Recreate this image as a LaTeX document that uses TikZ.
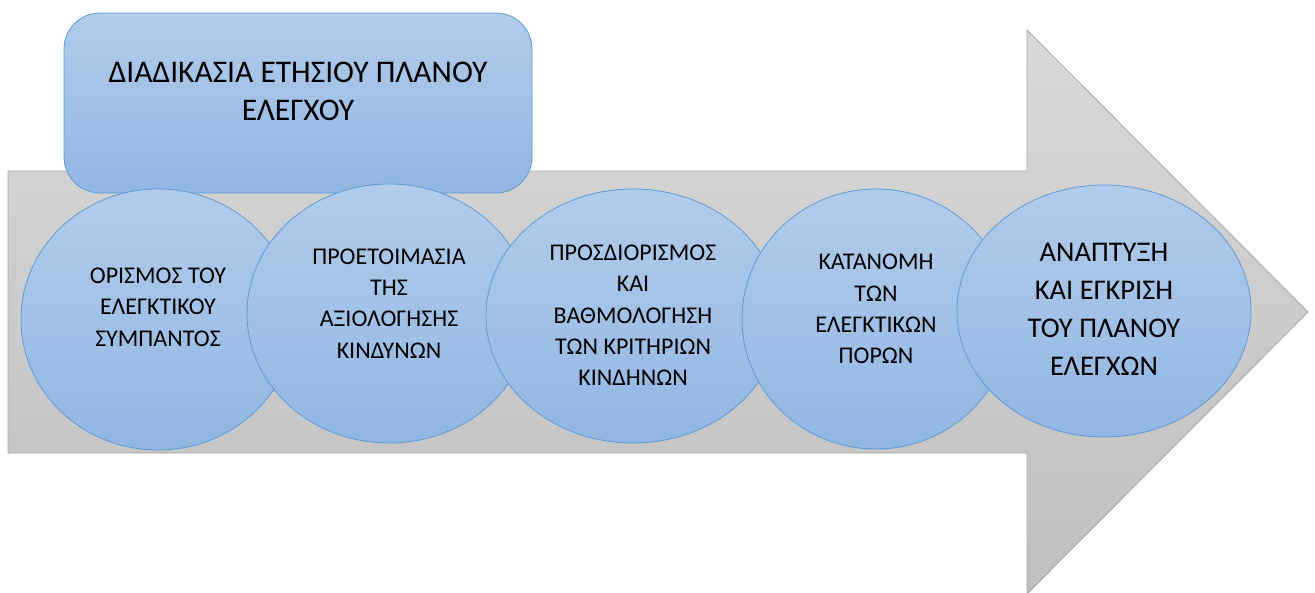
\documentclass[tikz,border=0pt]{standalone}
\usepackage{fontspec}
\setmainfont{Carlito}
\usetikzlibrary{shapes.geometric}
\definecolor{arrowtop}{HTML}{D9D9D9}
\definecolor{arrowbot}{HTML}{BFBFBF}
\definecolor{arrowline}{HTML}{A6A6A6}
\definecolor{bluetop}{HTML}{B2CCEA}
\definecolor{bluebot}{HTML}{91B6E3}
\definecolor{blueline}{HTML}{5B9BD5}

\begin{document}
\begin{tikzpicture}[x=1pt,y=-1pt]
    \tikzstyle{stage}=[ellipse, draw=blueline, line width=0.8pt, top color=bluetop, bottom color=bluebot, inner sep=0pt]
    \tikzstyle{stage text}=[align=center, inner sep=0pt, font=\fontsize{24}{31.3}\selectfont]
    \tikzstyle{big text}=[align=center, inner sep=0pt, font=\fontsize{28.5}{38.2}\selectfont]
    \tikzstyle{title box}=[rectangle, rounded corners=36pt, draw=blueline, line width=0.8pt, top color=bluetop, bottom color=bluebot, minimum width=468pt, minimum height=180pt]

    \useasboundingbox (0,0) rectangle (1315,592);

    % the big arrow behind everything
    \draw[draw=arrowline, line width=0.8pt, top color=arrowtop, bottom color=arrowbot]
        (8,171) -- (1027,171) -- (1027,30) -- (1308,312) -- (1027,594) -- (1027,453) -- (8,453) -- cycle;

    % title box
    \node[title box] (title) at (298,103) {};
    \node[big text, font=\fontsize{31.5}{38}\selectfont] (title-text) at (298,91) {ΔΙΑΔΙΚΑΣΙΑ ΕΤΗΣΙΟΥ ΠΛΑΝΟΥ\\ΕΛΕΓΧΟΥ};

    % the five stages, each one over the one before
    \node[stage, minimum width=274pt, minimum height=261pt] (S-1) at (158,319.5) {};
    \node[stage text] (T-1) at (158,307) {ΟΡΙΣΜΟΣ ΤΟΥ\\ΕΛΕΓΚΤΙΚΟΥ\\ΣΥΜΠΑΝΤΟΣ};

    \node[stage, minimum width=284pt, minimum height=259pt] (S-2) at (389,313.5) {};
    \node[stage text] (T-2) at (389,303.5) {ΠΡΟΕΤΟΙΜΑΣΙΑ\\ΤΗΣ\\ΑΞΙΟΛΟΓΗΣΗΣ\\ΚΙΝΔΥΝΩΝ};

    \node[stage, minimum width=294pt, minimum height=254pt] (S-3) at (633,316) {};
    \node[stage text] (T-3) at (633,315.5) {ΠΡΟΣΔΙΟΡΙΣΜΟΣ\\ΚΑΙ\\ΒΑΘΜΟΛΟΓΗΣΗ\\ΤΩΝ ΚΡΙΤΗΡΙΩΝ\\ΚΙΝΔΗΝΩΝ};

    \node[stage, minimum width=268pt, minimum height=260pt] (S-4) at (876,319) {};
    \node[stage text] (T-4) at (876,309) {ΚΑΤΑΝΟΜΗ\\ΤΩΝ\\ΕΛΕΓΚΤΙΚΩΝ\\ΠΟΡΩΝ};

    \node[stage, minimum width=294pt, minimum height=252pt] (S-5) at (1104,311) {};
    \node[big text] (T-5) at (1104,309.5) {ΑΝΑΠΤΥΞΗ\\ΚΑΙ ΕΓΚΡΙΣΗ\\ΤΟΥ ΠΛΑΝΟΥ\\ΕΛΕΓΧΩΝ};
\end{tikzpicture}
\end{document}
